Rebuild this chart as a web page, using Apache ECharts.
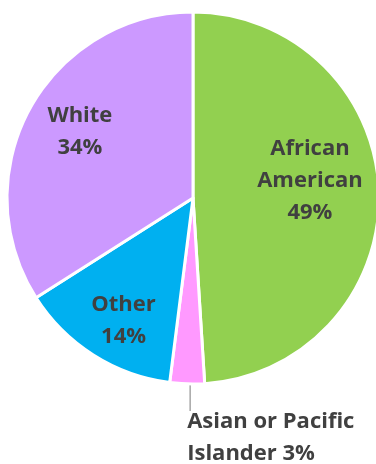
<!DOCTYPE html>
<html>
<head>
<meta charset="utf-8">
<script src="https://cdn.jsdelivr.net/npm/echarts@6/dist/echarts.min.js"></script>
<style>
  html, body { margin: 0; padding: 0; background: #ffffff; }
  #chart { width: 376px; height: 464px; }
</style>
</head>
<body>
<div id="chart"></div>
<script>
// Share of each group, in percent, clockwise from 12 o'clock
const categories = ['African American', 'Asian or Pacific Islander', 'Other', 'White'];
const shares = [49, 3, 14, 34];

// How each label is broken into lines
const labelBreaks = {
  'African American': 'African\nAmerican\n',
  'Asian or Pacific Islander': 'Asian or Pacific\nIslander ',
  'Other': 'Other\n',
  'White': 'White\n'
};

const colors = {
  'African American': '#92D050',
  'Asian or Pacific Islander': '#FF99FF',
  'Other': '#00B0F0',
  'White': '#CC99FF'
};

// Nudges from the default inside label spot
const labelNudge = {
  'African American': [21, -14],
  'Other': [-18, 42],
  'White': [-29, -20]
};

const chart = echarts.init(document.getElementById('chart'), null, { renderer: 'canvas' });

const data = categories.map((name, i) => {
  const outside = name === 'Asian or Pacific Islander';
  return {
    name: name,
    value: shares[i],
    itemStyle: { color: colors[name] },
    label: { position: outside ? 'outside' : 'inside', align: outside ? 'left' : 'center' },
    labelLine: { show: outside }
  };
});

chart.setOption({
  animation: false,
  series: [{
    type: 'pie',
    center: [193, 198],
    radius: [0, 186],
    startAngle: 90,
    clockwise: true,
    itemStyle: { borderColor: '#ffffff', borderWidth: 3 },
    label: {
      show: true,
      color: '#404040',
      fontFamily: 'Open Sans',
      fontWeight: 'bold',
      fontSize: 22,
      lineHeight: 32,
      formatter: p => labelBreaks[p.name] + p.value + '%'
    },
    labelLine: {
      show: false,
      length: 22,
      length2: 0,
      smooth: false,
      lineStyle: { color: '#A6A6A6', width: 1.5 }
    },
    labelLayout: function (params) {
      const name = categories[params.dataIndex];
      if (name === 'Asian or Pacific Islander') {
        const p0 = params.labelLinePoints ? params.labelLinePoints[0] : null;
        if (!p0) return {};
        // vertical leader dropping from the slice edge to the text
        const start = [p0[0] + 3, p0[1]];
        const end = [p0[0] + 3, p0[1] + 27];
        return {
          x: p0[0],
          y: p0[1] + 22,
          align: 'left',
          verticalAlign: 'top',
          labelLinePoints: [start, end, end]
        };
      }
      const n = labelNudge[name];
      return { dx: n[0], dy: n[1] };
    },
    data: data
  }]
});
</script>
</body>
</html>
